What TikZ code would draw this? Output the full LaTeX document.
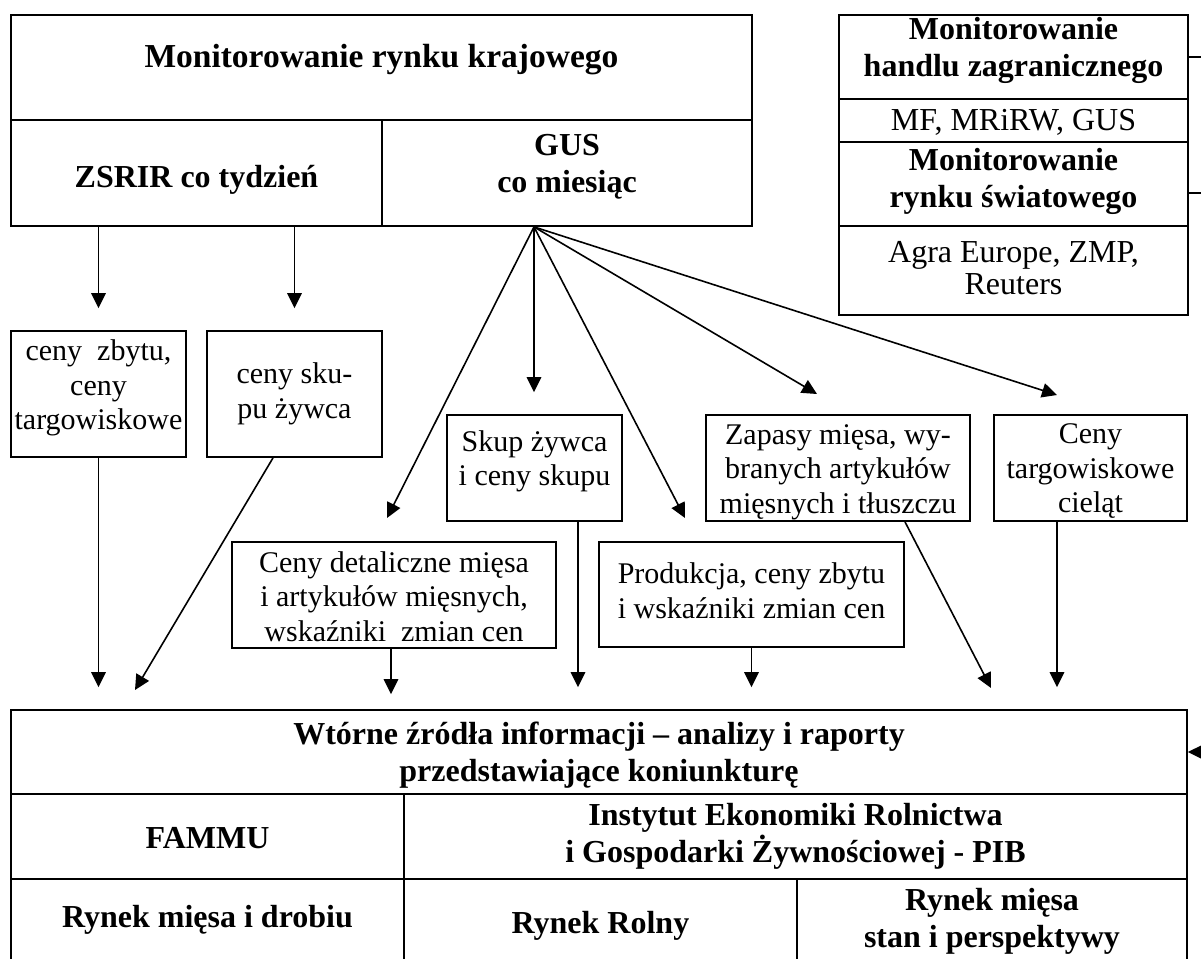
\documentclass[tikz,border=0pt]{standalone}
\usepackage{fontspec}
\setmainfont{Liberation Serif}
\usetikzlibrary{arrows.meta}
\begin{document}
\begin{tikzpicture}[x=1pt,y=-1pt,
  cell/.style={draw, line width=1.8pt, inner sep=0pt},
  txt/.style={align=center, inner sep=0pt, font=\fontsize{30}{34.5}\selectfont},
  rtxt/.style={align=center, inner sep=0pt, font=\fontsize{32}{32}\selectfont},
  btxt/.style={align=center, inner sep=0pt, font=\fontsize{32}{37}\selectfont\bfseries},
  ttxt/.style={align=center, inner sep=0pt, font=\fontsize{33.5}{38}\selectfont\bfseries},
  arr/.style={line width=1.6pt, -{Triangle[length=15pt,width=14.5pt]}},
  link/.style={line width=1.6pt},
]
\useasboundingbox (0,0) rectangle (1201,958);
\clip (0,0) rectangle (1201,958);

% ---- top left: domestic market monitoring
\node[cell, minimum width=741pt, minimum height=105pt,
  label={[ttxt, yshift=7.5pt]center:Monitorowanie rynku krajowego}] (kraj) at (381.5,67.5) {};
\node[cell, minimum width=371pt, minimum height=106pt,
  label={[btxt, yshift=-7pt]center:ZSRIR co tydzień}] (zsrir) at (196.5,173) {};
\node[cell, minimum width=370pt, minimum height=106pt,
  label={[btxt, yshift=6.5pt]center:GUS\\co miesiąc}] (gus) at (567,173) {};

% ---- top right
\node[cell, minimum width=349pt, minimum height=84pt,
  label={[btxt, yshift=7pt]center:Monitorowanie\\handlu zagranicznego}] (handel) at (1013.5,57) {};
\node[cell, minimum width=349pt, minimum height=43pt,
  label={[rtxt, yshift=-1.5pt]center:MF, MRiRW, GUS}] (mf) at (1013.5,120.5) {};
\node[cell, minimum width=349pt, minimum height=84pt,
  label={[btxt, yshift=3pt]center:Monitorowanie\\rynku światowego}] (swiat) at (1013.5,184) {};
\node[cell, minimum width=349pt, minimum height=89pt,
  label={[rtxt, yshift=2.5pt]center:Agra Europe, ZMP,\\Reuters}] (agra) at (1013.5,270.5) {};

% ---- middle boxes
\node[cell, minimum width=175pt, minimum height=126pt,
  label={[txt, yshift=6pt]center:ceny~~zbytu,\\ceny\\targowiskowe}] (b1) at (98.5,394) {};
\node[cell, minimum width=175pt, minimum height=126pt,
  label={[txt]center:ceny sku-\\pu żywca}] (b2) at (294.5,394) {};
\node[cell, minimum width=324pt, minimum height=106pt,
  label={[txt, yshift=-1.5pt]center:Ceny detaliczne mięsa\\i artykułów mięsnych,\\wskaźniki~~zmian cen}] (b3) at (394,595) {};
\node[cell, minimum width=175pt, minimum height=106pt,
  label={[txt, yshift=6.5pt]center:Skup żywca\\i ceny skupu}] (b4) at (534.5,468) {};
\node[cell, minimum width=305pt, minimum height=105pt,
  label={[txt, yshift=4pt]center:Produkcja, ceny zbytu\\i wskaźniki zmian cen}] (b5) at (751.5,594.5) {};
\node[cell, minimum width=264pt, minimum height=106pt,
  label={[txt, yshift=-4pt]center:Zapasy mięsa, wy-\\branych artykułów\\mięsnych i tłuszczu}] (b6) at (838,468) {};
\node[cell, minimum width=193pt, minimum height=106pt,
  label={[txt, yshift=-3.5pt]center:Ceny\\targowiskowe\\cieląt}] (b7) at (1090.5,468) {};

% ---- bottom table
\node[cell, minimum width=1176pt, minimum height=84pt,
  label={[btxt, yshift=-3pt]center:Wtórne źródła informacji – analizy i raporty\\przedstawiające koniunkturę}] (wt) at (599,752) {};
\node[cell, minimum width=393pt, minimum height=85pt,
  label={[btxt, yshift=-2pt]center:FAMMU}] (fammu) at (207.5,836.5) {};
\node[cell, minimum width=783pt, minimum height=85pt,
  label={[btxt]center:Instytut Ekonomiki Rolnictwa\\i Gospodarki Żywnościowej - PIB}] (ierigz) at (795.5,836.5) {};
\node[cell, minimum width=393pt, minimum height=81pt,
  label={[btxt, yshift=0pt]center:Rynek mięsa i drobiu}] (rmd) at (207.5,919.5) {};
\node[cell, minimum width=393pt, minimum height=81pt,
  label={[btxt, yshift=-6.5pt]center:Rynek Rolny}] (rr) at (600.5,919.5) {};
\node[cell, minimum width=390pt, minimum height=81pt,
  label={[btxt, yshift=-1.5pt]center:Rynek mięsa\\stan i perspektywy}] (rmsp) at (992,919.5) {};

% ---- coordinates for free ends
\coordinate (gs) at ([xshift=-33pt]gus.south);
\coordinate (t2) at (135,690);
\coordinate (t3) at (387,518);
\coordinate (t5) at (685,518);
\coordinate (t6) at (817,394);
\coordinate (t7) at (1057,395);
\coordinate (s2) at ([xshift=-21.5pt]b2.south);
\coordinate (s3) at ([xshift=-3pt]b3.south);
\coordinate (s4) at ([xshift=43.5pt]b4.south);
\coordinate (s6) at ([xshift=67pt]b6.south);
\coordinate (u6) at (991,688);
\coordinate (s7) at ([xshift=-33.5pt]b7.south);
\coordinate (rin) at (1230,752);
\coordinate (h1) at (1230,57);
\coordinate (h2) at (1230,193);
\coordinate (sw) at ([yshift=-9pt]swiat.east);

% ---- connectors
\draw[arr, shorten >=22pt] (zsrir.south -| b1.north) -- (b1.north);
\draw[arr, shorten >=22pt] (zsrir.south -| b2.north) -- (b2.north);
\draw[arr, shorten >=22pt] (b1.south) -- (b1.south |- wt.north);
\draw[arr] (s2) -- (t2);
\draw[arr] (gs) -- (t3);
\draw[arr, shorten >=22pt] (gs) -- (gs |- b4.north);
\draw[arr] (gs) -- (t5);
\draw[arr] (gs) -- (t6);
\draw[arr] (gs) -- (t7);
\draw[arr, shorten >=15pt] (s3) -- (s3 |- wt.north);
\draw[arr, shorten >=22pt] (s4) -- (s4 |- wt.north);
\draw[arr, shorten >=22pt] (b5.south) -- (b5.south |- wt.north);
\draw[arr] (s6) -- (u6);
\draw[arr, shorten >=22pt] (s7) -- (s7 |- wt.north);
\draw[arr] (rin) -- (wt.east);
\draw[link] (handel.east) -- (h1);
\draw[link] (sw) -- (h2);
\end{tikzpicture}
\end{document}
